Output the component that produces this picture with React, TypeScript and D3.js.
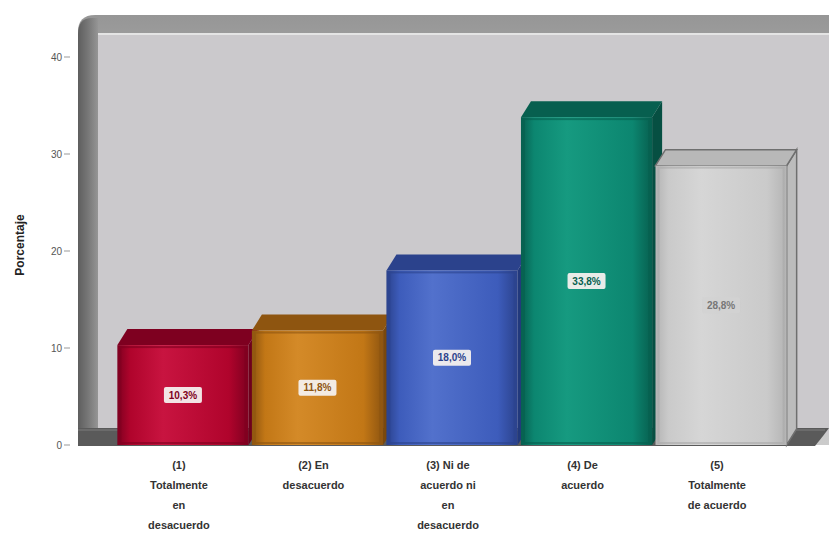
import React from "react";
import * as d3 from "d3";

const categories: string[][] = [
  ["(1)", "Totalmente", "en", "desacuerdo"],
  ["(2) En", "desacuerdo"],
  ["(3) Ni de", "acuerdo ni", "en", "desacuerdo"],
  ["(4) De", "acuerdo"],
  ["(5)", "Totalmente", "de acuerdo"],
];
const values: number[] = [10.3, 11.8, 18.0, 33.8, 28.8];
const valueLabels: string[] = ["10,3%", "11,8%", "18,0%", "33,8%", "28,8%"];
const yTicks: number[] = [0, 10, 20, 30, 40];
const yTitle = "Porcentaje";

const frontColors = ["#b0042c", "#c27716", "#3d5cbb", "#0c8670", "#cacaca"];
const darkColors = ["#7e0020", "#8e5510", "#2b428c", "#075f4f", "#b4b4b4"];
const lightColors = ["#c81440", "#d48a28", "#5271cc", "#169a80", "#d6d6d6"];
const edgeColors = ["#6e001c", "#7a480c", "#22397c", "#064f42", "#808080"];

const W = 829;
const H = 535;
const DX = 10;
const DY = -16;

export default function App() {
  const x = d3
    .scaleBand<number>()
    .domain(values.map((_, i) => i))
    .range([116, 788])
    .paddingInner(0.025)
    .paddingOuter(0.01);
  const y = d3.scaleLinear().domain([0, 40]).range([445, 57]);
  const base = y(0);

  return (
    <svg
      width={W}
      height={H}
      style={{ position: "absolute", left: 0, top: 0, fontFamily: "Liberation Sans, Arial, sans-serif" }}
    >
      <defs>
        {frontColors.map((c, i) => (
          <linearGradient key={i} id={`g${i}`} x1="0" x2="1" y1="0" y2="0">
            <stop offset="0" stopColor={darkColors[i]} />
            <stop offset="0.1" stopColor={c} />
            <stop offset="0.35" stopColor={lightColors[i]} />
            <stop offset="0.85" stopColor={c} />
            <stop offset="1" stopColor={darkColors[i]} />
          </linearGradient>
        ))}
        <linearGradient id="wall" x1="0" x2="1" y1="0" y2="0">
          <stop offset="0" stopColor="#5e5e5e" />
          <stop offset="0.5" stopColor="#777" />
          <stop offset="1" stopColor="#959595" />
        </linearGradient>
        <linearGradient id="topstrip" x1="0" x2="0" y1="0" y2="1">
          <stop offset="0" stopColor="#969696" />
          <stop offset="0.35" stopColor="#bdbdbd" />
          <stop offset="1" stopColor="#cbcbcb" />
        </linearGradient>
      </defs>
      <rect x={0} y={0} width={W} height={H} fill="#ffffff" />

      {/* back panel */}
      <path d={`M78,${445} L78,32 Q78,15 95,15 L${W},15 L${W},${445} Z`} fill="url(#topstrip)" />
      <rect x={96} y={34} width={W - 96} height={400} fill="#cbc9cc" />
      <line x1={96} y1={34} x2={W} y2={34} stroke="#e4e4e4" strokeWidth={2} />
      {/* left wall */}
      <path d={`M78,${446} L78,34 Q78,18 92,18 L98,18 L98,${446} Z`} fill="url(#wall)" />
      {/* floor */}
      <path d={`M78,428 L${W},428 L${W - 6},436 L${W - 14},446 L78,446 Z`} fill="#5a5a5a" />
      <line x1={78} y1={430} x2={W - 4} y2={430} stroke="#7d7d7d" strokeWidth={1} />

      {/* y axis ticks */}
      {yTicks.map((t) => (
        <g key={t}>
          <line x1={64} x2={70} y1={y(t)} y2={y(t)} stroke="#999" strokeWidth={1} />
          <text x={62} y={y(t)} dy="0.35em" textAnchor="end" fontSize={10} fill="#555">
            {t}
          </text>
        </g>
      ))}
      <text
        transform={`translate(24,245) rotate(-90)`}
        textAnchor="middle"
        fontSize={12}
        fontWeight="bold"
        fill="#222"
      >
        {yTitle}
      </text>

      {/* bars */}
      {values.map((v, i) => {
        const x0 = x(i)!;
        const x1 = x0 + x.bandwidth();
        const yt = y(v);
        const isGray = i === 4;
        return (
          <g key={i}>
            <polygon
              points={`${x1},${yt} ${x1 + DX},${yt + DY} ${x1 + DX},${base + DY} ${x1},${base}`}
              fill={isGray ? "#bcbcbc" : edgeColors[i]}
              stroke={isGray ? "#6f6f6f" : "none"}
              strokeWidth={1.5}
            />
            <polygon
              points={`${x0},${yt} ${x0 + DX},${yt + DY} ${x1 + DX},${yt + DY} ${x1},${yt}`}
              fill={isGray ? "#b8b8b8" : darkColors[i]}
              stroke={isGray ? "#6f6f6f" : "none"}
              strokeWidth={1.5}
            />
            <rect x={x0} y={yt} width={x1 - x0} height={base - yt} fill={`url(#g${i})`} />
            <rect
              x={x0 + 3}
              y={yt + 2}
              width={x1 - x0 - 6}
              height={base - yt - 4}
              fill="none"
              stroke={isGray ? "#a8a8a8" : darkColors[i]}
              strokeOpacity={0.6}
              strokeWidth={2}
            />
            <rect
              x={(x0 + x1) / 2 - 19}
              y={(yt + base) / 2 - 8}
              width={38}
              height={16}
              rx={2}
              fill={isGray ? "#d2d2d2" : "#f4f0ee"}
              opacity={isGray ? 0.8 : 0.95}
            />
            <text
              x={(x0 + x1) / 2}
              y={(yt + base) / 2}
              dy="0.35em"
              textAnchor="middle"
              fontSize={10}
              fontWeight="bold"
              fill={isGray ? "#777" : darkColors[i]}
            >
              {valueLabels[i]}
            </text>
          </g>
        );
      })}

      {/* category labels */}
      {categories.map((lines, i) => {
        const cx = x(i)! + x.bandwidth() / 2 - 4;
        return (
          <text key={i} textAnchor="middle" fontSize={11} fontWeight="bold" fill="#333">
            {lines.map((l, j) => (
              <tspan key={j} x={cx} y={469 + j * 20}>
                {l}
              </tspan>
            ))}
          </text>
        );
      })}
    </svg>
  );
}
